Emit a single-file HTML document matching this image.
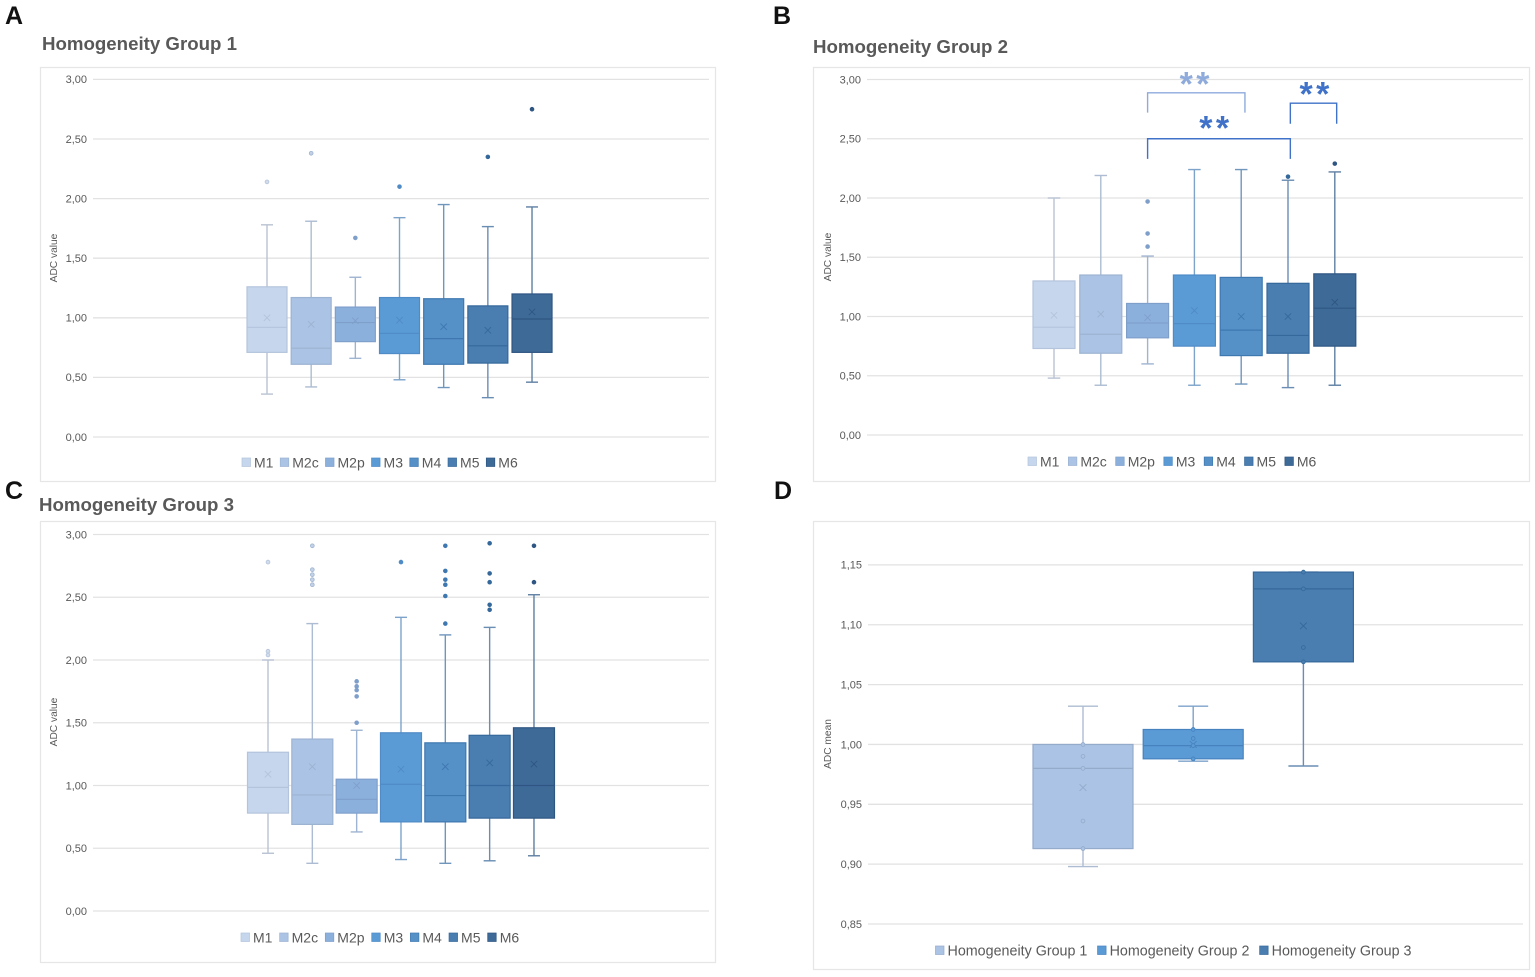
<!DOCTYPE html>
<html>
<head>
<meta charset="utf-8">
<title>ADC boxplots by homogeneity group</title>
<style>
html,body{margin:0;padding:0;background:#fff;width:1535px;height:977px;overflow:hidden}
svg{display:block;font-family:"Liberation Sans",sans-serif;filter:blur(0.35px)}
</style>
</head>
<body>
<svg id="figure" xmlns="http://www.w3.org/2000/svg" width="1535" height="977" viewBox="0 0 1535 977">
  <rect x="40.5" y="67.5" width="675" height="414" fill="#fff" stroke="#e6e6e6" stroke-width="1.2"/>
  <rect x="813.5" y="67.5" width="716" height="414" fill="#fff" stroke="#e6e6e6" stroke-width="1.2"/>
  <rect x="40.5" y="521.5" width="675" height="441" fill="#fff" stroke="#e6e6e6" stroke-width="1.2"/>
  <rect x="813.5" y="521.5" width="716" height="448" fill="#fff" stroke="#e6e6e6" stroke-width="1.2"/>
  <text x="5" y="24" font-size="25" font-weight="700" fill="#111">A</text>
  <text x="773" y="24" font-size="25" font-weight="700" fill="#111">B</text>
  <text x="5" y="499" font-size="25" font-weight="700" fill="#111">C</text>
  <text x="774" y="499" font-size="25" font-weight="700" fill="#111">D</text>
  <text x="42" y="50" font-size="18.5" font-weight="700" fill="#595959" textLength="195" lengthAdjust="spacingAndGlyphs">Homogeneity Group 1</text>
  <text x="813" y="53" font-size="18.5" font-weight="700" fill="#595959" textLength="195" lengthAdjust="spacingAndGlyphs">Homogeneity Group 2</text>
  <text x="39" y="511" font-size="18.5" font-weight="700" fill="#595959" textLength="195" lengthAdjust="spacingAndGlyphs">Homogeneity Group 3</text>
  <text transform="translate(57,258) rotate(-90)" text-anchor="middle" font-size="10.2" fill="#595959">ADC value</text>
  <text transform="translate(831,257) rotate(-90)" text-anchor="middle" font-size="10.2" fill="#595959">ADC value</text>
  <text transform="translate(57,722) rotate(-90)" text-anchor="middle" font-size="10.2" fill="#595959">ADC value</text>
  <text transform="translate(831,744) rotate(-90)" text-anchor="middle" font-size="10.2" fill="#595959">ADC mean</text>
</svg>
<script>
// Shared categories and tick labels
const methodCategories = ['M1', 'M2c', 'M2p', 'M3', 'M4', 'M5', 'M6'];
const groupCategories = ['Homogeneity Group 1', 'Homogeneity Group 2', 'Homogeneity Group 3'];
const adcTickValues = [0, 0.5, 1, 1.5, 2, 2.5, 3];
const adcTickLabels = ['0,00', '0,50', '1,00', '1,50', '2,00', '2,50', '3,00'];
const meanTickValues = [0.85, 0.9, 0.95, 1, 1.05, 1.1, 1.15];
const meanTickLabels = ['0,85', '0,90', '0,95', '1,00', '1,05', '1,10', '1,15'];

// Panel A
const aLow = [0.36, 0.42, 0.66, 0.48, 0.415, 0.33, 0.46];
const aQ1 = [0.71, 0.61, 0.80, 0.70, 0.61, 0.62, 0.71];
const aMedian = [0.92, 0.745, 0.96, 0.87, 0.825, 0.765, 0.99];
const aQ3 = [1.26, 1.17, 1.09, 1.17, 1.16, 1.10, 1.20];
const aHigh = [1.78, 1.81, 1.34, 1.84, 1.95, 1.765, 1.93];
const aMean = [1.00, 0.945, 0.975, 0.98, 0.925, 0.895, 1.05];
const aOutliers = [[2.14], [2.38], [1.67], [2.10], [], [2.35], [2.75]];

// Panel B
const bLow = [0.48, 0.42, 0.60, 0.42, 0.43, 0.40, 0.42];
const bQ1 = [0.73, 0.69, 0.82, 0.75, 0.67, 0.69, 0.75];
const bMedian = [0.91, 0.85, 0.945, 0.94, 0.885, 0.84, 1.07];
const bQ3 = [1.30, 1.35, 1.11, 1.35, 1.33, 1.28, 1.36];
const bHigh = [2.00, 2.19, 1.51, 2.24, 2.24, 2.15, 2.22];
const bMean = [1.01, 1.02, 0.99, 1.05, 1.00, 1.00, 1.12];
const bOutliers = [[], [], [1.59, 1.70, 1.97], [], [], [2.18], [2.29]];

// Panel B significance brackets (category position, top value, foot value)
const bBracketFrom = [2, 2, 5.05];
const bBracketTo = [4.08, 5.05, 6.04];
const bBracketTop = [2.888, 2.50, 2.80];
const bBracketFoot = [2.72, 2.33, 2.627];

// Panel C
const cLow = [0.46, 0.38, 0.63, 0.41, 0.38, 0.40, 0.44];
const cQ1 = [0.78, 0.69, 0.78, 0.71, 0.71, 0.74, 0.74];
const cMedian = [0.985, 0.925, 0.89, 1.01, 0.92, 1.00, 1.00];
const cQ3 = [1.265, 1.37, 1.05, 1.42, 1.34, 1.40, 1.46];
const cHigh = [2.00, 2.29, 1.44, 2.34, 2.20, 2.26, 2.52];
const cMean = [1.09, 1.15, 1.00, 1.13, 1.15, 1.18, 1.17];
const cOutliers = [
  [2.04, 2.07, 2.78],
  [2.60, 2.64, 2.68, 2.72, 2.91],
  [1.50, 1.71, 1.76, 1.79, 1.83],
  [2.78],
  [2.29, 2.51, 2.60, 2.64, 2.71, 2.91],
  [2.40, 2.44, 2.62, 2.69, 2.93],
  [2.62, 2.91]
];

// Panel D
const dLow = [0.898, 0.986, 0.982];
const dQ1 = [0.913, 0.988, 1.069];
const dMedian = [0.98, 0.999, 1.13];
const dQ3 = [1.00, 1.0125, 1.144];
const dHigh = [1.032, 1.032, 1.144];
const dMean = [0.964, 1.00, 1.099];
const dPoints = [
  [0.913, 0.936, 0.98, 0.99, 1.00],
  [0.988, 0.999, 1.005, 1.0125],
  [1.069, 1.081, 1.13, 1.144]
];

// Series styling
const methodFills = ['#c6d6ec', '#abc3e4', '#8cb0dc', '#5a9bd6', '#5590c7', '#4a7db0', '#3e6a98'];
const methodStrokes = ['#b4c4dc', '#9db3d2', '#7f9fcb', '#4f8bc6', '#3f78b1', '#35689b', '#2f5682'];
const methodWhiskers = ['#b9c3d3', '#adbcd2', '#9fb4d0', '#7da3ca', '#7096bc', '#6a8db3', '#5f7fa3'];
const groupFills = ['#abc3e4', '#5a9bd6', '#4a7db0'];
const groupStrokes = ['#95abcb', '#4682be', '#35689b'];
const groupWhiskers = ['#adbcd2', '#7da3ca', '#6a8db3'];

const svg = document.getElementById('figure');

function node(tag, attrs, parent) {
  const el = document.createElementNS('http://www.w3.org/2000/svg', tag);
  for (const k in attrs) el.setAttribute(k, attrs[k]);
  parent.appendChild(el);
  return el;
}

function drawChart(p) {
  const root = node('g', {}, svg);
  
  

  const y = v => p.y0 - (v - p.vMin) * p.pxPerUnit;
  const x = i => p.x0 + i * p.step;
  p.y = y;
  p.x = x;

  // Gridlines and tick labels
  p.tickValues.forEach((v, i) => {
    const line = node('line', { x1: p.left, x2: p.right, y1: y(v), y2: y(v), stroke: '#e2e2e2', 'stroke-width': 1.3 }, root);
    
    
    const label = node('text', { x: p.left - 6, y: y(v) + 3.8, 'text-anchor': 'end', 'font-size': 11, fill: '#595959' }, root);
    
    
    label.textContent = p.tickLabels[i];
  });

  // Series marks
  p.categories.forEach((cat, i) => {
    const g = node('g', {}, root);
    
    
    const cx = x(i);
    const whisk = p.whiskers[i];
    const stem = node('line', { x1: cx, x2: cx, y1: y(p.low[i]), y2: y(p.high[i]), stroke: whisk, 'stroke-width': 1.4 }, g);
    
    
    [p.low[i], p.high[i]].forEach(v => {
      const cap = node('line', { x1: cx - p.capW / 2, x2: cx + p.capW / 2, y1: y(v), y2: y(v), stroke: whisk, 'stroke-width': 1.4 }, g);
      
      
    });
    const box = node('rect', {
      x: cx - p.boxW / 2, width: p.boxW, y: y(p.q3[i]), height: y(p.q1[i]) - y(p.q3[i]),
      fill: p.fills[i], stroke: p.strokes[i], 'stroke-width': 1.2
    }, g);
    
    
    const med = node('line', { x1: cx - p.boxW / 2, x2: cx + p.boxW / 2, y1: y(p.median[i]), y2: y(p.median[i]), stroke: p.strokes[i], 'stroke-width': 1.2 }, g);
    
    
    const m = y(p.mean[i]);
    const s = p.meanSize;
    const cross = node('path', { d: `M${cx - s} ${m - s}L${cx + s} ${m + s}M${cx - s} ${m + s}L${cx + s} ${m - s}`, stroke: p.strokes[i], 'stroke-width': 0.9, fill: 'none' }, g);
    
    
    p.outliers[i].forEach(v => {
      const dot = node('circle', { cx: cx, cy: y(v), r: 1.9, fill: p.strokes[i], 'fill-opacity': i < 2 && !p.hollow ? 0.6 : 1, stroke: p.strokes[i], 'stroke-width': 0.8 }, g);
      if (p.hollow) dot.setAttribute('fill', p.fills[i]);
      
      
    });
  });

  // Legend
  let cursor = p.legendX;
  p.categories.forEach((cat, i) => {
    const g = node('g', {}, root);
    
    
    const sw = node('rect', { x: cursor, y: p.legendY - 4.5, width: 8.5, height: 8.5, fill: p.fills[i], stroke: p.strokes[i], 'stroke-width': 0.7 }, g);
    
    
    const t = node('text', { x: cursor + 12, y: p.legendY + 5, 'font-size': p.legendSize, fill: '#595959' }, g);
    
    
    t.textContent = cat;
    cursor += 12 + t.getComputedTextLength() + p.legendGap;
  });
}

const chartA = {
  id: 'a', categories: methodCategories, tickValues: adcTickValues, tickLabels: adcTickLabels,
  low: aLow, q1: aQ1, median: aMedian, q3: aQ3, high: aHigh, mean: aMean, outliers: aOutliers,
  fills: methodFills, strokes: methodStrokes, whiskers: methodWhiskers,
  left: 93, right: 709, y0: 437, vMin: 0, pxPerUnit: 119.2, x0: 267, step: 44.17,
  boxW: 40, capW: 12, meanSize: 3.2, legendX: 242, legendY: 462.5, legendSize: 14, legendGap: 6.8
};
const chartB = {
  id: 'b', categories: methodCategories, tickValues: adcTickValues, tickLabels: adcTickLabels,
  low: bLow, q1: bQ1, median: bMedian, q3: bQ3, high: bHigh, mean: bMean, outliers: bOutliers,
  fills: methodFills, strokes: methodStrokes, whiskers: methodWhiskers,
  left: 867, right: 1523, y0: 435, vMin: 0, pxPerUnit: 118.5, x0: 1054, step: 46.8,
  boxW: 42, capW: 12.5, meanSize: 3.2, legendX: 1028, legendY: 461.5, legendSize: 14, legendGap: 8.9
};
const chartC = {
  id: 'c', categories: methodCategories, tickValues: adcTickValues, tickLabels: adcTickLabels,
  low: cLow, q1: cQ1, median: cMedian, q3: cQ3, high: cHigh, mean: cMean, outliers: cOutliers,
  fills: methodFills, strokes: methodStrokes, whiskers: methodWhiskers,
  left: 93, right: 709, y0: 911, vMin: 0, pxPerUnit: 125.5, x0: 268, step: 44.33,
  boxW: 41, capW: 12, meanSize: 3.2, legendX: 241, legendY: 937.5, legendSize: 14, legendGap: 7.2
};
const chartD = {
  id: 'd', categories: groupCategories, tickValues: meanTickValues, tickLabels: meanTickLabels,
  low: dLow, q1: dQ1, median: dMedian, q3: dQ3, high: dHigh, mean: dMean, outliers: dPoints,
  fills: groupFills, strokes: groupStrokes, whiskers: groupWhiskers, hollow: true,
  left: 868, right: 1523, y0: 924, vMin: 0.85, pxPerUnit: 1197, x0: 1083, step: 110.2,
  boxW: 100, capW: 30, meanSize: 3.4, legendX: 935.5, legendY: 950.5, legendSize: 14.3, legendGap: 10.2
};

[chartA, chartB, chartC, chartD].forEach(drawChart);

// Significance brackets on panel B
const bracketColors = ['#8fabdc', '#3f72c8', '#3f72c8'];
const starCenters = [3.04, 3.46, 5.6];
const starValues = [3.004, 2.633, 2.92];
bBracketFrom.forEach((from, i) => {
  const g = node('g', {}, svg);
  
  
  const xa = chartB.x(from);
  const xb = chartB.x(bBracketTo[i]);
  const yt = chartB.y(bBracketTop[i]);
  const yf = chartB.y(bBracketFoot[i]);
  const br = node('path', { d: `M${xa} ${yf}V${yt}H${xb}V${yf}`, fill: 'none', stroke: bracketColors[i], 'stroke-width': 1.4 }, g);
  
  
  const st = node('text', { x: chartB.x(starCenters[i]), y: chartB.y(starValues[i]) + 16.5, 'text-anchor': 'middle', 'font-size': 34, 'font-weight': 700, fill: bracketColors[i], 'letter-spacing': 3.4 }, g);
  
  
  st.textContent = '**';
});
</script>
</body>
</html>
